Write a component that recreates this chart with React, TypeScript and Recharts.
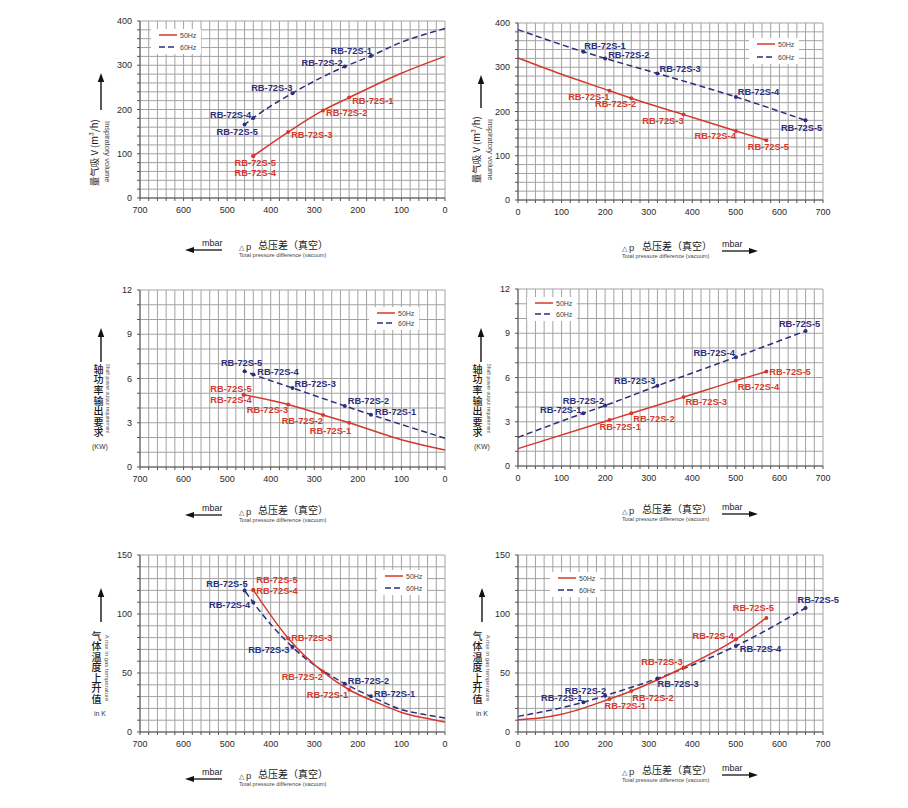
import { CartesianGrid, Line, LineChart, XAxis, YAxis } from "recharts";

const RED = "#d6382c";
const NAVY = "#2b2e7c";
const FONT = "Arial, 'Liberation Sans', sans-serif";
const CJK = "'Noto Sans CJK SC', sans-serif";

// grid ticks (labels only every 100 mbar / every major step)
const dpTicks = Array.from({ length: 36 }, (_, i) => i * 20);
const volTicks = Array.from({ length: 21 }, (_, i) => i * 20);
const pwrTicks = Array.from({ length: 13 }, (_, i) => i);
const tmpTicks = Array.from({ length: 16 }, (_, i) => i * 10);

// inspiratory volume (m3/h), left chart, pressure axis reversed
const volL50x = [0, 100, 220, 280, 360, 440, 440];
const volL50y = [320, 282, 227, 198, 149, 95, 95];
const volL50tag = ["", "", "RB-72S-1", "RB-72S-2", "RB-72S-3", "RB-72S-5", "RB-72S-4"];
const volL60x = [0, 100, 170, 230, 350, 440, 460];
const volL60y = [383, 352, 321, 297, 237, 181, 166];
const volL60tag = ["", "", "RB-72S-1", "RB-72S-2", "RB-72S-3", "RB-72S-4", "RB-72S-5"];

// inspiratory volume, right chart
const volR50x = [0, 100, 210, 260, 380, 500, 570];
const volR50y = [321, 284, 247, 230, 193, 156, 135];
const volR50tag = ["", "", "RB-72S-1", "RB-72S-2", "RB-72S-3", "RB-72S-4", "RB-72S-5"];
const volR60x = [0, 150, 200, 320, 500, 660];
const volR60y = [385, 335, 320, 286, 233, 180];
const volR60tag = ["", "RB-72S-1", "RB-72S-2", "RB-72S-3", "RB-72S-4", "RB-72S-5"];

// shaft power (kW)
const pwrL50x = [0, 100, 220, 280, 360, 462, 462];
const pwrL50y = [1.15, 1.85, 3.0, 3.53, 4.24, 4.9, 4.9];
const pwrL50tag = ["", "", "RB-72S-1", "RB-72S-2", "RB-72S-3", "RB-72S-5", "RB-72S-4"];
const pwrL60x = [0, 170, 230, 350, 440, 460];
const pwrL60y = [1.95, 3.55, 4.14, 5.36, 6.27, 6.5];
const pwrL60tag = ["", "RB-72S-1", "RB-72S-2", "RB-72S-3", "RB-72S-4", "RB-72S-5"];

const pwrR50x = [0, 210, 260, 380, 500, 570];
const pwrR50y = [1.18, 3.12, 3.58, 4.67, 5.79, 6.4];
const pwrR50tag = ["", "RB-72S-1", "RB-72S-2", "RB-72S-3", "RB-72S-4", "RB-72S-5"];
const pwrR60x = [0, 150, 200, 320, 500, 660];
const pwrR60y = [1.94, 3.58, 4.1, 5.44, 7.38, 9.16];
const pwrR60tag = ["", "RB-72S-1", "RB-72S-2", "RB-72S-3", "RB-72S-4", "RB-72S-5"];

// gas temperature rise (K)
const tmpL50x = [0, 50, 100, 150, 220, 280, 360, 440, 440];
const tmpL50y = [8.5, 12, 16.6, 24, 35.8, 51, 79.5, 120.4, 120.4];
const tmpL50tag = ["", "", "", "", "RB-72S-1", "RB-72S-2", "RB-72S-3", "RB-72S-4", "RB-72S-5"];
const tmpL60x = [0, 50, 100, 170, 230, 350, 440, 460];
const tmpL60y = [11.8, 15, 19, 30.2, 40.9, 72, 109.7, 120];
const tmpL60tag = ["", "", "", "RB-72S-1", "RB-72S-2", "RB-72S-3", "RB-72S-4", "RB-72S-5"];

const tmpR50x = [0, 50, 100, 210, 260, 380, 500, 570];
const tmpR50y = [10.4, 11.8, 15, 28, 34.8, 54.7, 78.5, 96.7];
const tmpR50tag = ["", "", "", "RB-72S-1", "RB-72S-2", "RB-72S-3", "RB-72S-4", "RB-72S-5"];
const tmpR60x = [0, 150, 200, 320, 500, 660];
const tmpR60y = [13.2, 25.2, 30.8, 45.4, 72.9, 105.1];
const tmpR60tag = ["", "RB-72S-1", "RB-72S-2", "RB-72S-3", "RB-72S-4", "RB-72S-5"];

type Pt = { x: number; y: number; tag: string };
type Anchor = "start" | "middle" | "end";
type Place = Record<string, [Anchor, number, number]>;

const pts = (xs: number[], ys: number[], tags: string[]): Pt[] =>
  xs.map((x, i) => ({ x, y: ys[i], tag: tags[i] }));

// label placement next to each point: [anchor, dx, dy]
const place1r: Place = {
  "RB-72S-1": ["start", 3, 3], "RB-72S-2": ["start", 3, 3], "RB-72S-3": ["start", 3, 3],
  "RB-72S-5": ["middle", 2, 7], "RB-72S-4": ["middle", 2, 17.5]
};
const place1b: Place = {
  "RB-72S-1": ["end", 1, -5], "RB-72S-2": ["end", -2, -4], "RB-72S-3": ["end", 0, -5],
  "RB-72S-4": ["end", -2, -3], "RB-72S-5": ["start", -28, 7]
};
const place2r: Place = {
  "RB-72S-1": ["end", 0, 6], "RB-72S-2": ["end", 5, 6], "RB-72S-3": ["end", 0, 6],
  "RB-72S-4": ["end", 0, 5], "RB-72S-5": ["middle", 2, 7]
};
const place2b: Place = {
  "RB-72S-1": ["start", 1, -6], "RB-72S-2": ["start", 3, -3], "RB-72S-3": ["start", 2, -4],
  "RB-72S-4": ["start", 2, -5], "RB-72S-5": ["middle", -4, 8]
};
const place3r: Place = {
  "RB-72S-1": ["end", 2, 8], "RB-72S-2": ["end", 0, 6], "RB-72S-3": ["end", 0, 6],
  "RB-72S-5": ["end", 8, -5.5], "RB-72S-4": ["end", 8, 5]
};
const place3b: Place = {
  "RB-72S-1": ["start", 4, -3], "RB-72S-2": ["start", 3, -5], "RB-72S-3": ["start", 2, -4],
  "RB-72S-4": ["start", 4, -3], "RB-72S-5": ["middle", -3, -8]
};
const place4r: Place = {
  "RB-72S-1": ["start", -10, 7], "RB-72S-2": ["start", 2, 6], "RB-72S-3": ["start", 2, 5],
  "RB-72S-4": ["start", 2, 6], "RB-72S-5": ["start", 3, 0]
};
const place4b: Place = {
  "RB-72S-1": ["end", -2, -3], "RB-72S-2": ["end", -1, -5], "RB-72S-3": ["end", -2, -5],
  "RB-72S-4": ["end", -1, -4], "RB-72S-5": ["middle", -6, -7]
};
const place5r: Place = {
  "RB-72S-1": ["end", -1, 5], "RB-72S-2": ["end", 0, 5], "RB-72S-3": ["start", 3, 0],
  "RB-72S-4": ["start", 3, 1], "RB-72S-5": ["start", 3, -9.5]
};
const place5b: Place = {
  "RB-72S-1": ["start", 3, -2], "RB-72S-2": ["start", 3, -3], "RB-72S-3": ["end", -3, 3],
  "RB-72S-4": ["end", -3, 2], "RB-72S-5": ["end", 3, -6]
};
const place6r: Place = {
  "RB-72S-1": ["start", -5, 7], "RB-72S-2": ["start", 1, 7], "RB-72S-3": ["end", -1, -5],
  "RB-72S-4": ["end", -2, -3], "RB-72S-5": ["middle", -13, -10]
};
const place6b: Place = {
  "RB-72S-1": ["end", -1, -4], "RB-72S-2": ["end", 1, -5], "RB-72S-3": ["start", 0, 6],
  "RB-72S-4": ["start", 4, 3], "RB-72S-5": ["start", -8, -8]
};

function makeDot(color: string, place: Place) {
  return (props: any) => {
    const { cx, cy, payload, index } = props;
    if (!payload || !payload.tag) return <g key={`d${index}`} />;
    const [anchor, dx, dy] = place[payload.tag] || ["start", 3, 0];
    return (
      <g key={`d${index}`}>
        <circle cx={cx} cy={cy} r={2} fill={color} />
        <text
          x={cx + dx}
          y={cy + dy}
          textAnchor={anchor}
          dominantBaseline="central"
          fontSize={9.3}
          fontWeight="bold"
          fontFamily={FONT}
          fill={color}
        >
          {payload.tag}
        </text>
      </g>
    );
  };
}

const PW = 305;
const PH = 177;

type PanelProps = {
  left: number;
  top: number;
  reversed: boolean;
  yMax: number;
  yTicks: number[];
  yStep: number;
  red: Pt[];
  navy: Pt[];
  redPlace: Place;
  navyPlace: Place;
};

function Panel(p: PanelProps) {
  const tick = { fontSize: 9, fill: "#2a2a2a", fontFamily: FONT };
  return (
    <div style={{ position: "absolute", left: p.left - 50, top: p.top - 10 }}>
      <LineChart width={PW + 70} height={PH + 40} margin={{ top: 10, right: 20, bottom: 0, left: 0 }}>
        <CartesianGrid stroke="#a3a3a3" strokeWidth={1} />
        <XAxis
          type="number"
          dataKey="x"
          domain={[0, 700]}
          ticks={dpTicks}
          interval={0}
          reversed={p.reversed}
          height={30}
          tickSize={3}
          tickMargin={6}
          tickFormatter={(v: number) => (v % 100 === 0 ? String(v) : "")}
          tick={tick}
          stroke="#555"
        />
        <YAxis
          type="number"
          domain={[0, p.yMax]}
          ticks={p.yTicks}
          interval={0}
          width={50}
          tickSize={3}
          tickMargin={5}
          tickFormatter={(v: number) => (v % p.yStep === 0 ? String(v) : "")}
          tick={tick}
          stroke="#555"
        />
        <Line
          data={p.navy}
          dataKey="y"
          type="monotone"
          stroke={NAVY}
          strokeWidth={1.5}
          strokeDasharray="6 3.5"
          dot={makeDot(NAVY, p.navyPlace)}
          activeDot={false}
          isAnimationActive={false}
        />
        <Line
          data={p.red}
          dataKey="y"
          type="monotone"
          stroke={RED}
          strokeWidth={1.5}
          dot={makeDot(RED, p.redPlace)}
          activeDot={false}
          isAnimationActive={false}
        />
      </LineChart>
    </div>
  );
}

function LegendBox({ x, y, gap }: { x: number; y: number; gap: number }) {
  const row = (dy: number, dashed: boolean, color: string, label: string) => (
    <div style={{ position: "absolute", left: 8, top: 6 + dy - 5, height: 10, display: "flex", alignItems: "center" }}>
      <svg width={18} height={10}>
        <line x1={0} y1={5} x2={18} y2={5} stroke={color} strokeWidth={1.5} strokeDasharray={dashed ? "6 3" : undefined} />
      </svg>
      <span style={{ marginLeft: 3, fontSize: 7, color: "#444", fontFamily: FONT }}>{label}</span>
    </div>
  );
  return (
    <div style={{ position: "absolute", left: x - 8, top: y - 6, width: 50, height: gap + 13, background: "#fff" }}>
      {row(0, false, RED, "50Hz")}
      {row(gap, true, NAVY, "60Hz")}
    </div>
  );
}

function UpArrow({ x, y1, y2 }: { x: number; y1: number; y2: number }) {
  return (
    <svg style={{ position: "absolute", left: x - 4, top: y1 }} width={8} height={y2 - y1}>
      <polygon points={`4,0 0.8,9 7.2,9`} fill="#111" />
      <line x1={4} y1={8} x2={4} y2={y2 - y1} stroke="#111" strokeWidth={1.4} />
    </svg>
  );
}

function RotText({ cx, cy, angle, size, font, color, children }: any) {
  return (
    <div
      style={{
        position: "absolute",
        left: cx - 100,
        top: cy - (size + 2) / 2,
        width: 200,
        height: size + 2,
        lineHeight: `${size + 2}px`,
        textAlign: "center",
        fontSize: size,
        fontFamily: font,
        color,
        whiteSpace: "nowrap",
        transform: `rotate(${angle}deg)`
      }}
    >
      {children}
    </div>
  );
}

// upright characters stacked top to bottom
function Stack({ cx, top, pitch, text }: { cx: number; top: number; pitch: number; text: string }) {
  return (
    <div
      style={{
        position: "absolute",
        left: cx - 7,
        top,
        writingMode: "vertical-rl",
        textOrientation: "upright",
        letterSpacing: pitch - 10,
        fontSize: 10,
        lineHeight: "14px",
        fontFamily: CJK,
        fontWeight: 500,
        color: "#1a1a1a",
        whiteSpace: "nowrap"
      }}
    >
      {text}
    </div>
  );
}

function Small({ cx, cy, size, children }: any) {
  return (
    <div
      style={{
        position: "absolute",
        left: cx - 30,
        top: cy - size / 2 - 1,
        width: 60,
        textAlign: "center",
        fontSize: size,
        lineHeight: `${size + 2}px`,
        fontFamily: FONT,
        color: "#333"
      }}
    >
      {children}
    </div>
  );
}

function XTitle({ side, cy }: { side: "left" | "right"; cy: number }) {
  const isLeft = side === "left";
  const dpX = isLeft ? 239 : 622;
  const cjkX = isLeft ? 258 : 642;
  const mbarX = isLeft ? 202 : 722;
  const a1 = isLeft ? 185 : 722;
  const a2 = isLeft ? 222 : 758;
  const w = a2 - a1;
  return (
    <>
      <div style={{ position: "absolute", left: dpX, top: cy - 6, height: 12, lineHeight: "12px", fontFamily: FONT, color: "#333", whiteSpace: "nowrap" }}>
        <span style={{ fontSize: 7 }}>△</span>
        <span style={{ fontSize: 9.5, marginLeft: 2 }}>p</span>
      </div>
      <div style={{ position: "absolute", left: cjkX, top: cy - 7, height: 14, lineHeight: "14px", fontSize: 10, fontFamily: CJK, color: "#1a1a1a", whiteSpace: "nowrap" }}>
        总压差（真空）
      </div>
      <div style={{ position: "absolute", left: dpX, top: cy + 10 - 4, height: 8, lineHeight: "8px", fontSize: 5.7, fontFamily: FONT, color: "#444", whiteSpace: "nowrap" }}>
        Total pressure difference (vacuum)
      </div>
      <div style={{ position: "absolute", left: mbarX, top: cy - 2 - 6, height: 12, lineHeight: "12px", fontSize: 9, fontFamily: FONT, color: "#222" }}>
        mbar
      </div>
      <svg style={{ position: "absolute", left: a1, top: cy + 5 - 4 }} width={w} height={8}>
        {isLeft ? (
          <>
            <polygon points={`0,4 9,1 9,7`} fill="#111" />
            <line x1={8} y1={4} x2={w} y2={4} stroke="#111" strokeWidth={1.3} />
          </>
        ) : (
          <>
            <polygon points={`${w},4 ${w - 9},1 ${w - 9},7`} fill="#111" />
            <line x1={0} y1={4} x2={w - 8} y2={4} stroke="#111" strokeWidth={1.3} />
          </>
        )}
      </svg>
    </>
  );
}

export default function App() {
  return (
    <div style={{ position: "absolute", left: 0, top: 0, width: 908, height: 808, background: "#fff", overflow: "hidden" }}>
      <Panel
        left={140} top={21} reversed yMax={400} yTicks={volTicks} yStep={100}
        red={pts(volL50x, volL50y, volL50tag)} navy={pts(volL60x, volL60y, volL60tag)}
        redPlace={place1r} navyPlace={place1b}
      />
      <Panel
        left={518} top={23} reversed={false} yMax={400} yTicks={volTicks} yStep={100}
        red={pts(volR50x, volR50y, volR50tag)} navy={pts(volR60x, volR60y, volR60tag)}
        redPlace={place2r} navyPlace={place2b}
      />
      <Panel
        left={140} top={290} reversed yMax={12} yTicks={pwrTicks} yStep={3}
        red={pts(pwrL50x, pwrL50y, pwrL50tag)} navy={pts(pwrL60x, pwrL60y, pwrL60tag)}
        redPlace={place3r} navyPlace={place3b}
      />
      <Panel
        left={518} top={289} reversed={false} yMax={12} yTicks={pwrTicks} yStep={3}
        red={pts(pwrR50x, pwrR50y, pwrR50tag)} navy={pts(pwrR60x, pwrR60y, pwrR60tag)}
        redPlace={place4r} navyPlace={place4b}
      />
      <Panel
        left={140} top={555} reversed yMax={150} yTicks={tmpTicks} yStep={50}
        red={pts(tmpL50x, tmpL50y, tmpL50tag)} navy={pts(tmpL60x, tmpL60y, tmpL60tag)}
        redPlace={place5r} navyPlace={place5b}
      />
      <Panel
        left={518} top={555} reversed={false} yMax={150} yTicks={tmpTicks} yStep={50}
        red={pts(tmpR50x, tmpR50y, tmpR50tag)} navy={pts(tmpR60x, tmpR60y, tmpR60tag)}
        redPlace={place6r} navyPlace={place6b}
      />

      <LegendBox x={159} y={35} gap={12} />
      <LegendBox x={757} y={44} gap={13} />
      <LegendBox x={377} y={313} gap={10} />
      <LegendBox x={535} y={303} gap={11} />
      <LegendBox x={385} y={576} gap={12} />
      <LegendBox x={558} y={578} gap={12} />

      {/* y titles: volume */}
      <UpArrow x={100.5} y1={73} y2={110} />
      <RotText cx={95} cy={153} angle={-90} size={9.5} font={CJK} color="#1a1a1a">量气吸 V (m³/h)</RotText>
      <RotText cx={107} cy={152} angle={90} size={7.5} font={FONT} color="#444">Inspiratory volume</RotText>
      <UpArrow x={481} y1={75} y2={108} />
      <RotText cx={477} cy={150} angle={-90} size={9.5} font={CJK} color="#1a1a1a">量气吸 V (m³/h)</RotText>
      <RotText cx={490} cy={150} angle={90} size={7.5} font={FONT} color="#444">Inspiratory volume</RotText>

      {/* y titles: power */}
      <UpArrow x={100.5} y1={328} y2={362} />
      <Stack cx={98} top={364} pitch={10.6} text="轴功率输出要求" />
      <RotText cx={107} cy={398} angle={90} size={5} font={FONT} color="#555">Shaft power output requirement</RotText>
      <Small cx={100} cy={446} size={7}>(KW)</Small>
      <UpArrow x={481} y1={328} y2={362} />
      <Stack cx={477} top={364} pitch={10.6} text="轴功率输出要求" />
      <RotText cx={488} cy={398} angle={90} size={5} font={FONT} color="#555">Shaft power output requirement</RotText>
      <Small cx={482} cy={446} size={7}>(KW)</Small>

      {/* y titles: temperature */}
      <UpArrow x={100.5} y1={588} y2={622} />
      <Stack cx={96} top={631} pitch={10.5} text="气体温度上升值" />
      <RotText cx={107} cy={668} angle={90} size={6} font={FONT} color="#555">A rise in gas temperature</RotText>
      <Small cx={100} cy={713} size={7}>in K</Small>
      <UpArrow x={482} y1={588} y2={622} />
      <Stack cx={477} top={631} pitch={10.5} text="气体温度上升值" />
      <RotText cx={488} cy={668} angle={90} size={6} font={FONT} color="#555">A rise in gas temperature</RotText>
      <Small cx={482} cy={713} size={7}>in K</Small>

      <XTitle side="left" cy={245} />
      <XTitle side="right" cy={246} />
      <XTitle side="left" cy={510} />
      <XTitle side="right" cy={509} />
      <XTitle side="left" cy={774} />
      <XTitle side="right" cy={770} />
    </div>
  );
}
